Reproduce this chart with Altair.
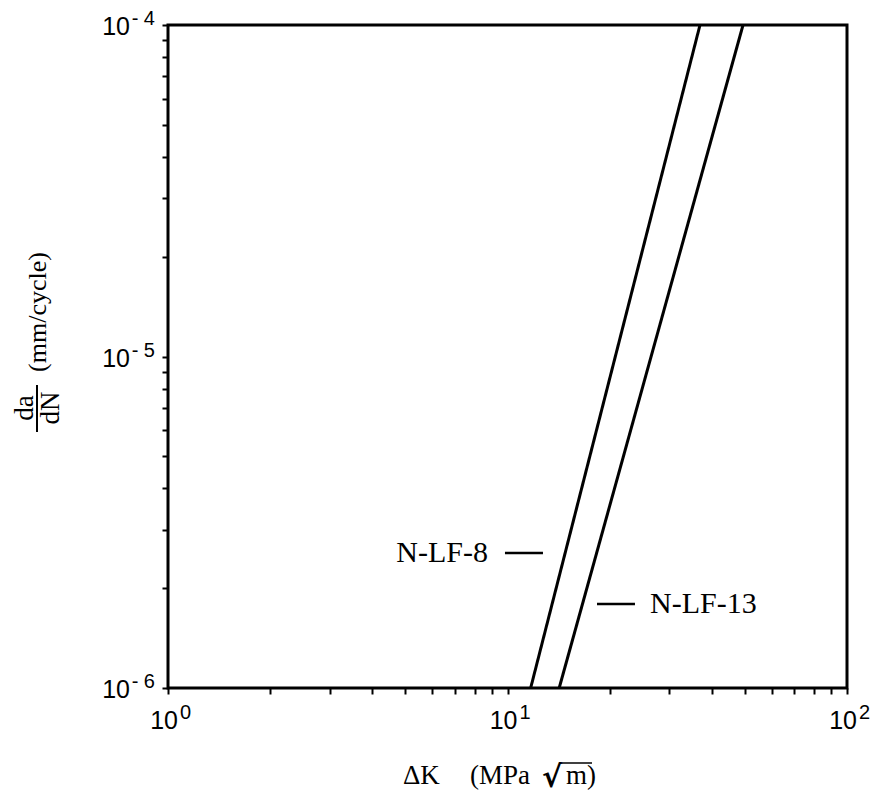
import altair as alt
import pandas as pd

# Paris-law bands (straight lines on log-log)
series = ["N-LF-8", "N-LF-8", "N-LF-13", "N-LF-13"]
dk = [11.7, 36.9, 14.2, 49.4]
dadn = [1e-6, 1e-4, 1e-6, 1e-4]

# annotations
lab_text = ["N-LF-8", "N-LF-13"]
lab_x = [8.76, 26.3]
lab_y = [2.555e-6, 1.792e-6]
dash_x1 = [9.83, 18.35]
dash_x2 = [12.72, 23.74]

# tick labels
xtick_vals = [1, 10, 100]
xtick_exp = ["0", "1", "2"]
ytick_vals = [1e-6, 1e-5, 1e-4]
ytick_exp = ["- 6", "- 5", "- 4"]

x_minor = [m * 10 ** d for d in range(2) for m in range(1, 10)] + [100]
y_minor = [m * 10.0 ** d for d in (-6, -5) for m in range(1, 10)] + [1e-4]

W, H = 679, 663
xs = alt.Scale(type="log", domain=[1, 100])
ys = alt.Scale(type="log", domain=[1e-6, 1e-4])

lines_df = pd.DataFrame({"series": series, "dk": dk, "dadn": dadn})
lab_df = pd.DataFrame({"t": lab_text, "x": lab_x, "y": lab_y, "x1": dash_x1, "x2": dash_x2})
xt_df = pd.DataFrame({"v": xtick_vals, "e": xtick_exp, "b": ["10"] * 3})
yt_df = pd.DataFrame({"v": ytick_vals, "e": ytick_exp, "b": ["10"] * 3})

xaxis = alt.Axis(values=x_minor, labels=False, title=None, grid=False, domain=False,
                 tickSize=6, tickWidth=2, tickColor="black")
yaxis = alt.Axis(values=y_minor, labels=False, title=None, grid=False, domain=False,
                 tickSize=6, tickWidth=2, tickColor="black")

lines = alt.Chart(lines_df).mark_line(color="black", strokeWidth=3, clip=True).encode(
    x=alt.X("dk:Q", scale=xs, axis=xaxis),
    y=alt.Y("dadn:Q", scale=ys, axis=yaxis),
    detail="series:N",
)

dashes = alt.Chart(lab_df).mark_rule(color="black", strokeWidth=2.5).encode(
    x=alt.X("x1:Q", scale=xs), x2="x2:Q", y=alt.Y("y:Q", scale=ys)
)

serif = "Liberation Serif"
sans = "Liberation Sans"

lab8 = alt.Chart(lab_df).transform_filter(alt.datum.t == "N-LF-8").mark_text(
    font=serif, fontSize=30, align="right", baseline="middle", color="black"
).encode(x=alt.X("x:Q", scale=xs), y=alt.Y("y:Q", scale=ys), text="t:N")

lab13 = alt.Chart(lab_df).transform_filter(alt.datum.t == "N-LF-13").mark_text(
    font=serif, fontSize=30, align="left", baseline="middle", color="black"
).encode(x=alt.X("x:Q", scale=xs), y=alt.Y("y:Q", scale=ys), text="t:N")

# x tick labels
xt_base = alt.Chart(xt_df).mark_text(font=sans, fontSize=25, align="right",
                                     baseline="alphabetic", dx=10, color="black").encode(
    x=alt.X("v:Q", scale=xs), y=alt.value(H + 41), text="b:N")
xt_exp = alt.Chart(xt_df).mark_text(font=sans, fontSize=20, align="left",
                                    baseline="alphabetic", dx=12, color="black").encode(
    x=alt.X("v:Q", scale=xs), y=alt.value(H + 31), text="e:N")

# y tick labels
yt_base = alt.Chart(yt_df).mark_text(font=sans, fontSize=25, align="right",
                                     baseline="alphabetic", dy=10, color="black").encode(
    y=alt.Y("v:Q", scale=ys), x=alt.value(-38), text="b:N")
yt_exp = alt.Chart(yt_df).mark_text(font=sans, fontSize=20, align="right",
                                    baseline="alphabetic", dy=0, color="black").encode(
    y=alt.Y("v:Q", scale=ys), x=alt.value(-13), text="e:N")

# axis titles
tdf = pd.DataFrame({"a": [0]})
def txt(s, x, y, size=27, angle=0, align="left", weight="normal", font=serif):
    return alt.Chart(tdf).mark_text(text=s, font=font, fontSize=size, angle=angle,
                                    align=align, baseline="alphabetic",
                                    fontWeight=weight, color="black").encode(
        x=alt.value(x), y=alt.value(y))

xt1 = txt("ΔK", 235, 759)
xt2 = txt("(MPa", 302, 759)
xt3 = txt("√", 374, 762, size=30, weight="bold", font="DejaVu Sans")
xt4 = txt("m)", 398, 759)
over = alt.Chart(tdf).mark_rule(color="black", strokeWidth=1.5).encode(
    x=alt.value(394), x2=alt.value(424), y=alt.value(738))

yt1 = alt.Chart(tdf).mark_text(text="(mm/cycle)", font=serif, fontSize=26, angle=270,
                               align="center", baseline="middle", color="black").encode(
    x=alt.value(-130), y=alt.value(287))
yda = alt.Chart(tdf).mark_text(text="da", font=serif, fontSize=27, angle=270,
                               align="center", baseline="middle", color="black").encode(
    x=alt.value(-143), y=alt.value(383))
ydn = alt.Chart(tdf).mark_text(text="dN", font=serif, fontSize=27, angle=270,
                               align="center", baseline="middle", color="black").encode(
    x=alt.value(-117), y=alt.value(383))
ybar = alt.Chart(tdf).mark_rule(color="black", strokeWidth=2).encode(
    x=alt.value(-131), y=alt.value(360), y2=alt.value(407))

chart = alt.layer(
    lines, dashes, lab8, lab13, xt_base, xt_exp, yt_base, yt_exp,
    xt1, xt2, xt3, xt4, over, yt1, yda, ydn, ybar
).properties(
    width=W, height=H,
    autosize=alt.AutoSizeParams(type="none"),
    padding={"left": 160, "top": 17, "right": 24, "bottom": 107},
    background="white",
).configure_view(stroke="black", strokeWidth=3)

chart.save("out.html", embed_options={"renderer": "svg", "actions": False})
